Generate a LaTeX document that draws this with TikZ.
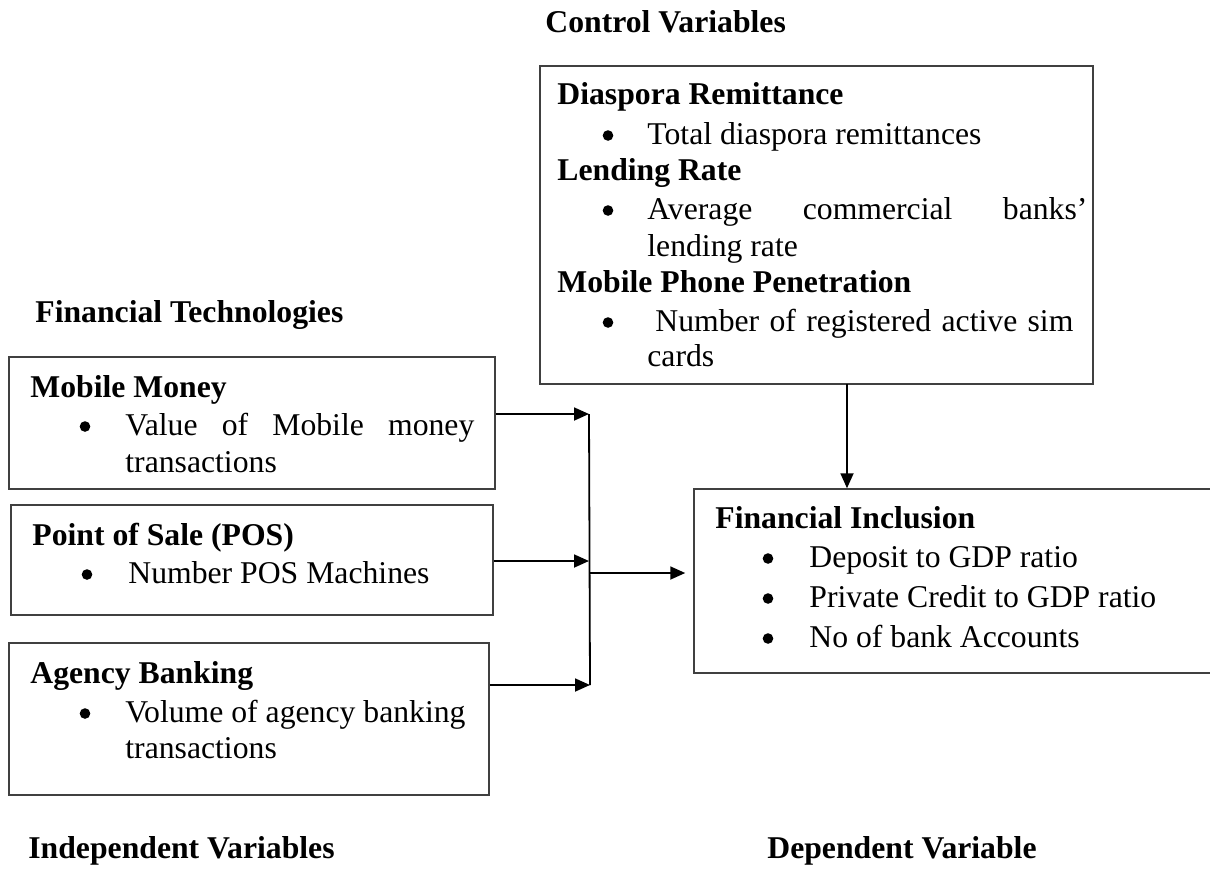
\documentclass[tikz,border=0pt]{standalone}
\usepackage{fontspec}
\setmainfont{Liberation Serif}
\usetikzlibrary{arrows.meta,fit}

\begin{document}
\begin{tikzpicture}[x=0.5pt,y=-0.5pt]

\tikzstyle{box}=[draw=black!75,line width=0.75pt,inner sep=0pt]
\tikzstyle{headtext}=[anchor=base west,inner sep=0pt,font=\fontsize{15.85}{19}\selectfont\bfseries]
\tikzstyle{itemtext}=[anchor=base west,inner sep=0pt,font=\fontsize{15.85}{19}\selectfont]
\tikzstyle{bulletmark}=[circle,fill=black,inner sep=0pt,minimum size=5.3pt]
\tikzstyle{link}=[-{Triangle[length=7.5pt,width=6.5pt]},line width=0.9pt]

\clip (0,0) rectangle (1210,869);

% group titles
\node[headtext] (ctitle) at (545,32) {Control Variables};
\node[headtext] (ftitle) at (35,322) {Financial Technologies};
\node[headtext] (ititle) at (28,858) {Independent Variables};
\node[headtext] (dtitle) at (767,858) {Dependent Variable};

% control variables
\node[box, fit={(540,66) (1093,384)}] (ctrl) {};
\node[headtext] (c1) at (557,104) {Diaspora Remittance};
\node[bulletmark] (b1) at (608,135.5) {};
\node[itemtext] (c2) at (647,144) {Total diaspora remittances};
\node[headtext] (c3) at (557,180) {Lending Rate};
\node[bulletmark] (b2) at (608,210.5) {};
\node[itemtext] (c4) at (647,219) {\makebox[220pt][s]{Average commercial banks’}};
\node[itemtext] (c5) at (647,256) {lending rate};
\node[headtext] (c6) at (557,292) {Mobile Phone Penetration};
\node[bulletmark] (b3) at (608,322.5) {};
\node[itemtext] (c7) at (655,331) {\makebox[209pt][s]{Number of registered active sim}};
\node[itemtext] (c8) at (647,366) {cards};

% mobile money
\node[box, fit={(9,357) (495,489)}] (mm) {};
\node[headtext] (m1) at (30,397) {Mobile Money};
\node[bulletmark] (b4) at (85,426.5) {};
\node[itemtext] (m2) at (125,435) {\makebox[174.5pt][s]{Value of Mobile money}};
\node[itemtext] (m3) at (125,472) {transactions};

% point of sale
\node[box, fit={(11,505) (493,615)}] (pos) {};
\node[headtext] (p1) at (32,545) {Point of Sale (POS)};
\node[bulletmark] (b5) at (87,574.5) {};
\node[itemtext] (p2) at (128,583) {Number POS Machines};

% agency banking
\node[box, fit={(9,643) (489,795)}] (agb) {};
\node[headtext] (a1) at (30,683) {Agency Banking};
\node[bulletmark] (b6) at (85,713.5) {};
\node[itemtext] (a2) at (125,722) {Volume of agency banking};
\node[itemtext] (a3) at (125,758) {transactions};

% financial inclusion
\node[box, fit={(694,489) (1240,673)}] (fi) {};
\node[headtext] (f1) at (715,528) {Financial Inclusion};
\node[bulletmark] (b7) at (768,558.5) {};
\node[itemtext] (f2) at (809,567) {Deposit to GDP ratio};
\node[bulletmark] (b8) at (768,598.5) {};
\node[itemtext] (f3) at (809,607) {Private Credit to GDP ratio};
\node[bulletmark] (b9) at (768,638.5) {};
\node[itemtext] (f4) at (809,647) {No of bank Accounts};

% joining line
\coordinate (jtop) at (589,414);
\coordinate (jmid) at (589,561);
\coordinate (jbot) at (590,685);
\coordinate (jout) at (589,573);
\coordinate (cdrop) at (847,384);

\draw[link] (mm.east |- jtop) -- (jtop);
\draw[link] (pos.east |- jmid) -- (jmid);
\draw[link] (agb.east |- jbot) -- (jbot);
\draw[line width=0.9pt] (jtop) -- (jbot);
\draw[link] (jout) -- ([xshift=-4pt]fi.west |- jout);
\draw[link] (cdrop) -- (cdrop |- fi.north);

\end{tikzpicture}
\end{document}
